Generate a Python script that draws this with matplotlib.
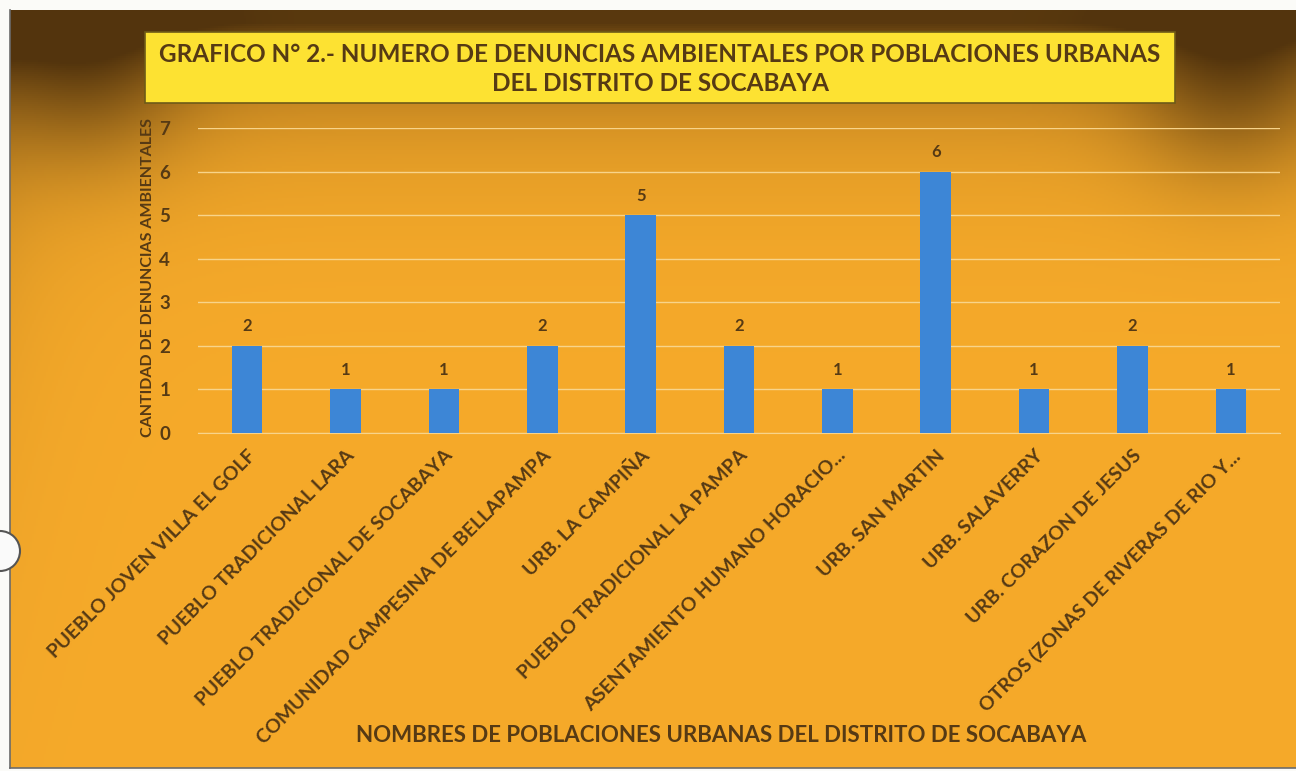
import numpy as np
import matplotlib.pyplot as plt
from matplotlib.patches import Rectangle, Ellipse

# datos del grafico
poblaciones = [
    "PUEBLO JOVEN VILLA EL GOLF",
    "PUEBLO TRADICIONAL LARA",
    "PUEBLO TRADICIONAL DE SOCABAYA",
    "COMUNIDAD CAMPESINA DE BELLAPAMPA",
    "URB. LA CAMPIÑA",
    "PUEBLO TRADICIONAL LA PAMPA",
    "ASENTAMIENTO HUMANO HORACIO...",
    "URB. SAN MARTIN",
    "URB. SALAVERRY",
    "URB. CORAZON DE JESUS",
    "OTROS (ZONAS DE RIVERAS DE RIO Y...",
]
denuncias = [2, 1, 1, 2, 5, 2, 1, 6, 1, 2, 1]
yticks = [0, 1, 2, 3, 4, 5, 6, 7]

titulo = ("GRAFICO N° 2.- NUMERO DE DENUNCIAS AMBIENTALES POR POBLACIONES URBANAS\n"
          "DEL DISTRITO DE SOCABAYA")
ylabel = "CANTIDAD DE DENUNCIAS AMBIENTALES"
xlabel = "NOMBRES DE POBLACIONES URBANAS DEL DISTRITO DE SOCABAYA"

plt.rcParams['font.family'] = ['Lato', 'DejaVu Sans']
texto = '#563a14'
naranja = np.array([246, 170, 42]) / 255
sombra = np.array([55, 32, 8]) / 255

W, H = 1296, 771
fig = plt.figure(figsize=(W / 100, H / 100), dpi=100)
fig.patch.set_facecolor('#fbfbf8')

# fondo naranja con sombra oscura arriba (en pixeles, fila 0 = arriba)
x0, y0, y1 = 10, 10, 768
bg = fig.add_axes([x0 / W, 1 - y1 / H, (W - x0) / W, (y1 - y0) / H])
bg.set_axis_off()
py = np.arange(y0, y1, 2)[:, None].astype(float)
px = np.arange(x0, W, 2)[None, :].astype(float)
k = 0.82 * np.exp(-np.maximum(py - 22, 0) / 65) * np.ones_like(px)
k = k + 0.35 * np.exp(-((px - 90) ** 2 + (py - 70) ** 2) / (2 * 70 ** 2))
k = k + 0.4 * np.exp(-((px - 1230) ** 2 + (py - 80) ** 2) / (2 * 70 ** 2))
k = k + 0.25 * np.exp(-(px - x0) / 60) * np.exp(-(py - y0) / 250)
k = np.clip(k, 0, 0.85)[..., None]
img = naranja * (1 - k) + sombra * k
bg.imshow(img, aspect='auto', extent=[0, 1, 0, 1], origin='upper')
bg.set_xlim(0, 1)
bg.set_ylim(0, 1)
fig.add_artist(plt.Line2D([x0 / W, x0 / W], [1 - y1 / H, 1 - y0 / H],
                          color='#6b6b6b', linewidth=1.2))
fig.add_artist(plt.Line2D([x0 / W, 1], [1 - y1 / H, 1 - y1 / H],
                          color='#6b6b6b', linewidth=1.2))

# cuadro del titulo
fig.patches.append(Rectangle((145 / W, 1 - 103 / H), 1030 / W, 71 / H,
                             transform=fig.transFigure, facecolor='#fde232',
                             edgecolor='#6e5a18', linewidth=1.2, zorder=3))
fig.text(660 / W, 1 - 69 / H, titulo, ha='center', va='center', fontsize=17.5,
         fontweight='bold', color=texto, linespacing=1.35, zorder=4)

ax = fig.add_axes([198 / W, 1 - 433 / H, 1082 / W, 305 / H])
ax.patch.set_alpha(0)
x = np.arange(len(poblaciones))
ax.bar(x, denuncias, width=0.31, color='#3d86d6', zorder=3)
for xi, v in zip(x, denuncias):
    ax.text(xi, v + 0.45, str(v), ha='center', va='center', fontsize=12,
            fontweight='bold', color=texto)

ax.set_ylim(0, 7)
ax.set_xlim(-0.5, len(poblaciones) - 0.5)
ax.set_yticks(yticks)
ax.yaxis.grid(True, color='#f8d48a', linewidth=1, zorder=0)
ax.set_axisbelow(True)
for s in ['top', 'right', 'left']:
    ax.spines[s].set_visible(False)
ax.spines['bottom'].set_color('#f8d48a')
ax.tick_params(axis='both', length=0, colors=texto)
ax.set_xticks(x)
ax.set_xticklabels(poblaciones, rotation=45, ha='right', rotation_mode='anchor',
                   fontsize=14, fontweight='bold', color=texto)
for t in ax.get_yticklabels():
    t.set_fontsize(13.5)
    t.set_fontweight('bold')
ax.tick_params(axis='y', pad=20)
ax.tick_params(axis='x', pad=10)

fig.text(148 / W, 1 - 277 / H, ylabel, rotation=90, ha='center', va='center',
         fontsize=11.5, fontweight='bold', color=texto)
fig.text(721 / W, 1 - 735 / H, xlabel, ha='center', va='center',
         fontsize=16, fontweight='bold', color=texto)

# marca de perforacion del papel
r = 20 / W
fig.patches.append(Ellipse((0, 1 - 551 / H), 2 * r, 2 * r * W / H,
                           transform=fig.transFigure, facecolor='#fafafa',
                           edgecolor='#555555', linewidth=1.5, zorder=5))

fig.savefig('out.png', dpi=100)
